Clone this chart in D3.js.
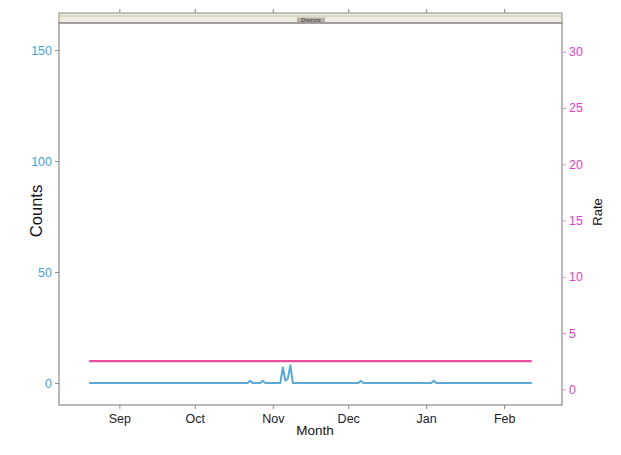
<!DOCTYPE html>
<html>
<head>
<meta charset="utf-8">
<script src="https://cdn.jsdelivr.net/npm/d3@7"></script>
<style>
  html, body { margin: 0; padding: 0; background: #fff; }
  svg { display: block; font-family: "Liberation Sans", Arial, sans-serif; }
</style>
</head>
<body>
<svg id="chart" width="621" height="455"></svg>
<script>
// Daily case counts (line vertices) and the district rate
const countDates  = ["2013-08-20","2013-10-22","2013-10-23","2013-10-24","2013-10-27","2013-10-28","2013-10-29",
                     "2013-11-04","2013-11-05","2013-11-06","2013-11-07","2013-11-08","2013-11-09",
                     "2013-12-05","2013-12-06","2013-12-07","2014-01-03","2014-01-04","2014-01-05","2014-02-12"];
const countValues = [0,0,1,0,0,1,0, 0,7,1,2,8,0, 0,1,0,0,1,0,0];
const rateDates   = ["2013-08-20","2014-02-12"];
const rateValues  = [2.5,2.5];

const monthTicks  = ["2013-09-01","2013-10-01","2013-11-01","2013-12-01","2014-01-01","2014-02-01"];
const monthLabels = ["Sep","Oct","Nov","Dec","Jan","Feb"];
const countTicks  = [0,50,100,150];
const rateTicks   = [0,5,10,15,20,25,30];
const panelTitle  = "Districts";

(function () {
const parse = d3.utcParse("%Y-%m-%d");
const svg = d3.select("#chart");

const pLeft = 59, pRight = 562, pTop = 23, pBottom = 405, stripTop = 13;

const x = d3.scaleUtc()
  .domain([parse("2013-08-08"), parse("2014-02-24")])
  .range([pLeft, pRight]);
const yCount = d3.scaleLinear().domain([-9.9, 162.2]).range([pBottom, pTop]);
const yRate  = d3.scaleLinear().domain([-1.39, 32.55]).range([pBottom, pTop]);

const blueText = "#4a9fdc", pinkText = "#e040c0";
const blueLine = "#5ea8d6", pinkLine = "#e8509e";
const frame = "#8a8a8a";

// strip with panel title
svg.append("rect").attr("x", pLeft).attr("y", stripTop).attr("width", pRight - pLeft).attr("height", pTop - stripTop)
  .attr("fill", "#efece0").attr("stroke", frame).attr("stroke-width", 1);
svg.append("line").attr("x1", pLeft).attr("x2", pRight).attr("y1", stripTop + 3).attr("y2", stripTop + 3)
  .attr("stroke", "#c8c4b4").attr("stroke-width", 1);
svg.append("rect").attr("x", 297).attr("y", 17.5).attr("width", 28).attr("height", 5)
  .attr("fill", "#b8b2a6");
svg.append("text").attr("x", 311).attr("y", 22).attr("text-anchor", "middle")
  .attr("font-size", 5.5).attr("fill", "#333").text(panelTitle);

// panel frame
svg.append("rect").attr("x", pLeft).attr("y", pTop).attr("width", pRight - pLeft).attr("height", pBottom - pTop)
  .attr("fill", "none").attr("stroke", frame).attr("stroke-width", 1.2);

// bottom month axis
const xAxis = d3.axisBottom(x).tickValues(monthTicks.map(parse))
  .tickFormat((d, i) => monthLabels[i]).tickSize(4).tickPadding(5);
const gx = svg.append("g").attr("transform", `translate(0,${pBottom})`).call(xAxis);
gx.select(".domain").remove();
gx.selectAll(".tick line").attr("stroke", frame);
gx.selectAll(".tick text").attr("fill", "#222").attr("font-size", 12.5)
  .attr("font-family", "Liberation Sans, Arial, sans-serif");

// top ticks above the strip
const gxt = svg.append("g").attr("transform", `translate(0,${stripTop})`)
  .call(d3.axisTop(x).tickValues(monthTicks.map(parse)).tickFormat("").tickSize(4));
gxt.select(".domain").remove();
gxt.selectAll(".tick line").attr("stroke", frame);

// left counts axis
const gl = svg.append("g").attr("transform", `translate(${pLeft},0)`)
  .call(d3.axisLeft(yCount).tickValues(countTicks).tickSize(4).tickPadding(3));
gl.select(".domain").remove();
gl.selectAll(".tick line").attr("stroke", frame);
gl.selectAll(".tick text").attr("fill", blueText).attr("font-size", 12.5)
  .attr("font-family", "Liberation Sans, Arial, sans-serif");

// right rate axis
const gr = svg.append("g").attr("transform", `translate(${pRight},0)`)
  .call(d3.axisRight(yRate).tickValues(rateTicks).tickSize(4).tickPadding(3));
gr.select(".domain").remove();
gr.selectAll(".tick line").attr("stroke", "#e88fd6");
gr.selectAll(".tick text").attr("fill", pinkText).attr("font-size", 12.5)
  .attr("font-family", "Liberation Sans, Arial, sans-serif");

// series lines
const countLine = d3.line().x((d, i) => x(parse(countDates[i]))).y(d => yCount(d));
const rateLine  = d3.line().x((d, i) => x(parse(rateDates[i]))).y(d => yRate(d));

svg.append("path").datum(rateValues).attr("d", rateLine)
  .attr("fill", "none").attr("stroke", pinkLine).attr("stroke-width", 2.2);
svg.append("path").datum(countValues).attr("d", countLine)
  .attr("fill", "none").attr("stroke", blueLine).attr("stroke-width", 2)
  .attr("stroke-linejoin", "round");

// axis titles
svg.append("text").attr("transform", "translate(42,211) rotate(-90)").attr("text-anchor", "middle")
  .attr("font-size", 16.5).attr("fill", "#111").text("Counts");
svg.append("text").attr("transform", "translate(602,212) rotate(-90)").attr("text-anchor", "middle")
  .attr("font-size", 13).attr("fill", "#111").text("Rate");
svg.append("text").attr("x", 315).attr("y", 435).attr("text-anchor", "middle")
  .attr("font-size", 13.5).attr("fill", "#111").text("Month");
})();
</script>
</body>
</html>
